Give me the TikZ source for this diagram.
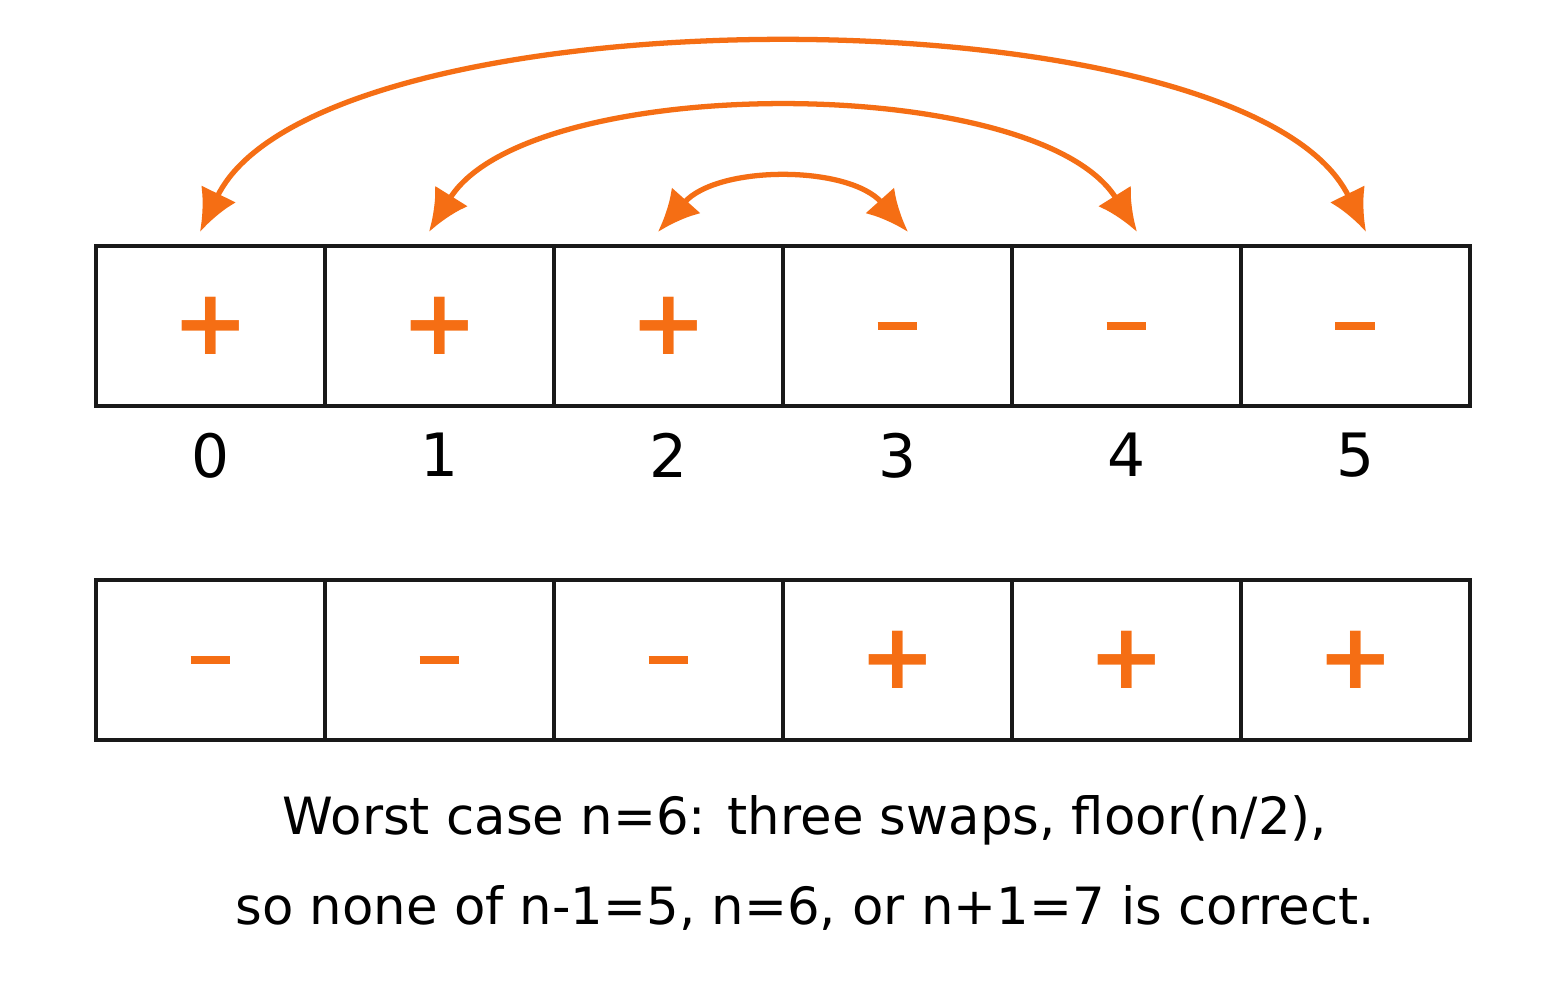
\documentclass[tikz,border=0pt]{standalone}
\usepackage{fontspec}
\setmainfont{DejaVu Sans}
\usetikzlibrary{arrows.meta,positioning}
\definecolor{swaporange}{RGB}{245,110,20}
\tikzset{
	cell/.style={draw=black!90, line width=1.3pt, minimum width=2.29cm, minimum height=1.6cm, inner sep=0pt, outer sep=0pt},
	sign/.style={text=swaporange, font=\fontsize{26}{26}\selectfont\bfseries},
	idx/.style={font=\fontsize{17}{17}\selectfont},
	swap/.style={swaporange, line width=1.5pt, {Latex[length=12pt,width=11pt]}-{Latex[length=12pt,width=11pt]}}
}
\newcommand{\minussign}{\textcolor{swaporange}{\rule{0.4cm}{2.4pt}}}
\begin{document}
\begin{tikzpicture}[x=1cm, y=1cm]
	\useasboundingbox (0,0) rectangle (15.63,10.06);
	\fill[white] (0,0) rectangle (15.63,10.06);
	% --- rows of cells: before (c) and after (d) ---
	\foreach \i in {0,...,5} {
		\node[cell] (c\i) at ({2.105+2.29*\i},6.8) {};
		\node[cell] (d\i) at ({2.105+2.29*\i},3.46) {};
		\node[idx, below=0.15cm of c\i] (n\i) {\i};
	}
	% signs
	\foreach \i in {0,1,2} {
		\node[sign] at (c\i) {+};
		\node at (d\i) {\minussign};
	}
	\foreach \i in {3,4,5} {
		\node at (c\i) {\minussign};
		\node[sign] at (d\i) {+};
	}
	% tip points above cells
	\foreach \i in {0,1,2} {
		\coordinate (t\i) at ([xshift=-3pt, yshift=4pt]c\i.north);
	}
	\foreach \i in {3,4,5} {
		\coordinate (t\i) at ([xshift=3pt, yshift=4pt]c\i.north);
	}
	% swaps
	\draw[swap] (t0) .. controls +(1.2,2.45) and +(-1.2,2.45) .. (t5);
	\draw[swap] (t1) .. controls +(1.0,1.6) and +(-1.0,1.6) .. (t4);
	\draw[swap] (t2) .. controls +(0.6,0.67) and +(-0.6,0.67) .. (t3);
	% caption
	\node[font=\fontsize{14.6}{14.6}\selectfont, align=center] (cap) at (8.05,1.43)
		{Worst case n=6: three swaps, floor(n/2),\\[11pt]so none of n-1=5, n=6, or n+1=7 is correct.};
\end{tikzpicture}
\end{document}
